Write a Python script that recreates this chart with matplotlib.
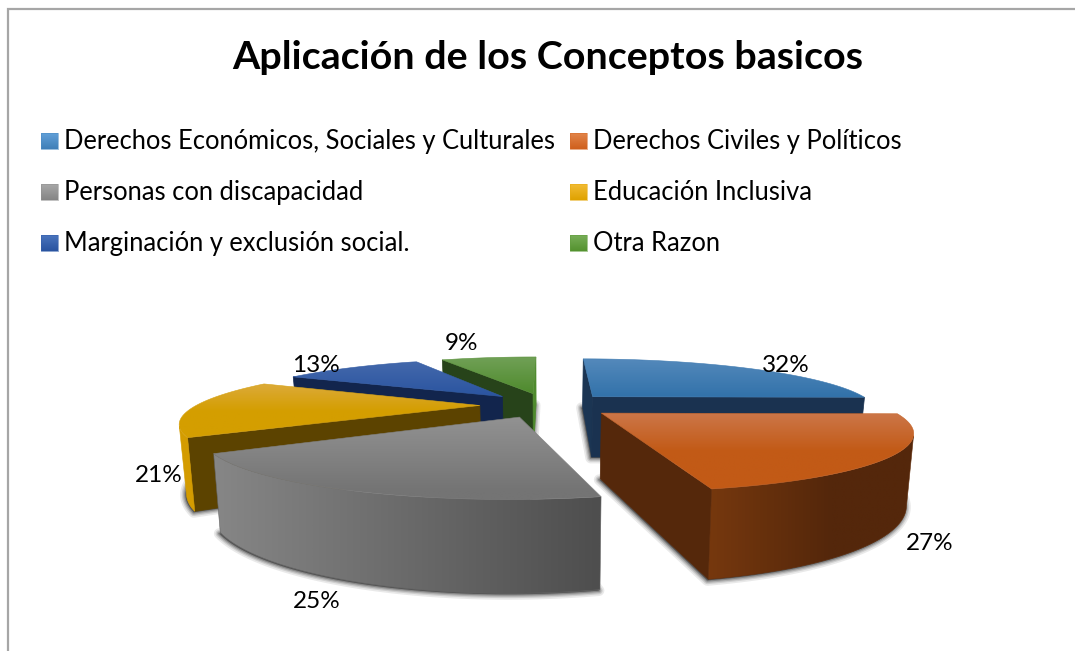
import matplotlib
matplotlib.use('Agg')
import matplotlib.pyplot as plt
from matplotlib.colors import to_rgb
from matplotlib.patches import Polygon
import numpy as np

# Data
title = 'Aplicación de los Conceptos basicos'
categories = ['Derechos Económicos, Sociales y Culturales', 'Derechos Civiles y Políticos',
              'Personas con discapacidad', 'Educación Inclusiva',
              'Marginación y exclusión social.', 'Otra Razon']
values = [32, 27, 25, 21, 13, 9]

# Colours per slice
top_light = ['#5489bb', '#cc7648', '#929292', '#dcaa38', '#4368ab', '#70a056']
top_base = ['#3272aa', '#c25a16', '#747474', '#d49e00', '#2a54a0', '#4e8a2c']
top_stop = [1.0, 0.5, 0.9, 0.5, 1.0, 1.0]
arc_right = ['#1a3250', '#54270b', '#4e4e4e', '#d49c00', '#12254d', '#4e8a2c']
arc_left = ['#1a3250', '#76380e', '#868686', '#d49c00', '#12254d', '#4e8a2c']
arc_stop = [1.0, 0.6, 1.0, 1.0, 1.0, 1.0]
start_face = ['#1b3553', '#55280b', '#505050', '#5c4300', '#12254d', '#27431a']
end_face = ['#1a3250', '#55280b', '#505050', '#5c4300', '#12254d', '#4e8a2c']
legend_a = ['#62a0d8', '#e2854a', '#a8a8a8', '#f2bc35', '#4a74bd', '#78ae58']
legend_b = ['#3f7fb8', '#cf5f1c', '#858585', '#dfa200', '#2a54a0', '#54922f']

# Label and legend placement (pixels)
label_xy = [(786, 365), (930, 544), (317, 601), (159, 475), (316, 365), (462, 343)]
legend_x = [41, 570]
legend_y = [141, 192, 243]

# Projection of the pie
cx, cy = 547, 405
rx, ry = 283, 52
k = 0.27
explode = 0.237
depth = 63
shrink = 0.98


def project(gx, gy):
    s = 1 / (1 + k * gy)
    return cx + rx * gx * s, cy - ry * gy * s, s


def bottom(gx, gy):
    x, y, s = project(gx, gy)
    return cx + (x - cx) * shrink, y + depth * s


def mix(c1, c2, t):
    return tuple(np.array(to_rgb(c1)) * (1 - t) + np.array(to_rgb(c2)) * t)


def gradient(ax, pts, c1, c2, zorder, stop=0.55, horizontal=False):
    # linear gradient clipped to a polygon
    pts = np.array(pts)
    y0, y1 = pts[:, 1].min(), pts[:, 1].max()
    x0, x1 = pts[:, 0].min(), pts[:, 0].max()
    t = np.clip(np.linspace(0, 1, 64) / stop, 0, 1)
    img = np.array([mix(c1, c2, v) for v in t])
    img = img[None, :, :] if horizontal else img[:, None, :]
    im = ax.imshow(img, extent=(x0, x1, y1, y0), aspect='auto', zorder=zorder, interpolation='bilinear')
    im.set_clip_path(Polygon(pts, closed=True, transform=ax.transData))
    ax.add_patch(Polygon(pts, closed=True, fill=False, edgecolor=mix(c1, c2, 0.6), lw=0.4, zorder=zorder))


def area(pts):
    pts = np.array(pts)
    x, y = pts[:, 0], pts[:, 1]
    return 0.5 * np.sum(x * np.roll(y, -1) - np.roll(x, -1) * y)


fig = plt.figure(figsize=(10.75, 6.51), dpi=100)
plt.rcParams['font.family'] = ['Lato', 'DejaVu Sans']
ax = fig.add_axes([0, 0, 1, 1])

frac = np.array(values) / sum(values) * 360
starts = np.concatenate([[0], np.cumsum(frac)[:-1]])
mids = starts + frac / 2

order = np.argsort(-np.cos(np.radians(mids)))
z = 2
for i in order:
    a0, a1 = starts[i], starts[i] + frac[i]
    m = np.radians(mids[i])
    ax_g, ay_g = explode * np.sin(m), explode * np.cos(m)
    ang = np.radians(np.linspace(a0, a1, 61))
    gx = np.concatenate([[ax_g], ax_g + np.sin(ang)])
    gy = np.concatenate([[ay_g], ay_g + np.cos(ang)])
    tx, ty, _ = project(gx, gy)
    bx, by = bottom(gx, gy)
    top = np.column_stack([tx, ty])
    bot = np.column_stack([bx, by])
    sign = area(top)

    # soft shadow under the slice
    for lw, al in zip([13, 9, 6, 3], [0.10, 0.14, 0.20, 0.30]):
        ax.add_patch(Polygon(bot + [-1, 1], closed=True, facecolor='#303030', edgecolor='#303030',
                             lw=lw * 0.6, alpha=al, zorder=z, joinstyle='round'))
    z += 1

    # flat cut faces, hidden ones are skipped
    n = len(top)
    for j, col in ((0, start_face[i]), (n - 1, end_face[i])):
        q = (j + 1) % n
        quad = [top[j], top[q], bot[q], bot[j]]
        if area(quad) * sign < 0:
            ax.add_patch(Polygon(quad, closed=True, facecolor=col, edgecolor=col, lw=0.5, zorder=z))
    z += 1

    # outer wall, only the part that faces the viewer
    seen = [j for j in range(1, n - 1) if area([top[j], top[j + 1], bot[j + 1], bot[j]]) * sign < 0]
    if seen:
        idx = np.arange(seen[0], seen[-1] + 2)
        wall = np.vstack([top[idx], bot[idx][::-1]])
        gradient(ax, wall, arc_left[i], arc_right[i], z, stop=arc_stop[i], horizontal=True)
    z += 1

    gradient(ax, top, top_light[i], top_base[i], z, stop=top_stop[i])
    z += 1

# Frame
ax.plot([8, 8, 1075], [651, 9, 9], color='#a6a6a6', lw=1.6, zorder=1, solid_joinstyle='miter')

# Title, legend, labels
ax.text(547.5, 69, title, fontsize=28.4, fontweight='bold', ha='center', va='baseline', color='black', zorder=50)
for i, name in enumerate(categories):
    col = i % 2
    row = i // 2
    x, y = legend_x[col], legend_y[row]
    gradient(ax, [(x, y - 8), (x + 16.5, y - 8), (x + 16.5, y + 8), (x, y + 8)], legend_a[i], legend_b[i], 50, stop=1)
    ax.text(x + 23, y + 8, name, fontsize=18.4, ha='left', va='baseline', color='black', zorder=50)

for v, (x, y) in zip(values, label_xy):
    ax.text(x, y, f'{v}%', fontsize=17.5, ha='center', va='center', color='black', zorder=60)

ax.set_xlim(0, 1075)
ax.set_ylim(651, 0)
ax.axis('off')
fig.savefig('out.png', dpi=100, facecolor='white')
